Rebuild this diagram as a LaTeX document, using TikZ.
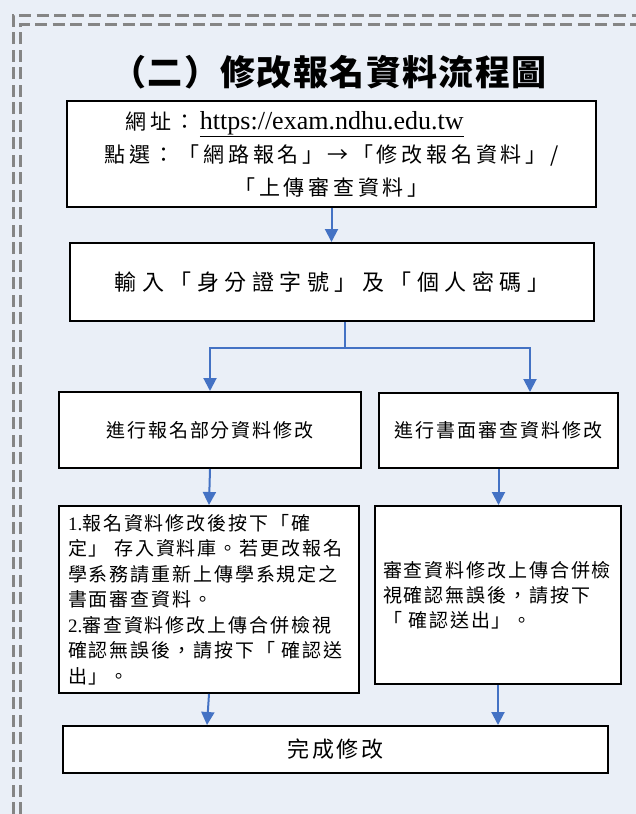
\documentclass[tikz,border=0pt]{standalone}
\usepackage{fontspec}
\setmainfont{Noto Sans CJK TC}
\newfontfamily\latf{Liberation Serif}
\usetikzlibrary{arrows.meta,calc}
\definecolor{bgc}{HTML}{EAEFF7}
\definecolor{arrc}{HTML}{4472C4}
\definecolor{dashc}{HTML}{858585}
\newcommand{\lsp}[1]{\addfontfeature{LetterSpace=#1}}
\tikzset{
 box/.style={draw=black, line width=2pt, fill=white, inner sep=0pt, align=center},
 arr/.style={draw=arrc, line width=2pt, -{Triangle[width=13pt,length=13pt]}},
 conn/.style={draw=arrc, line width=2pt},
 border/.style={draw=dashc, line width=3pt, dash pattern=on 12pt off 5.5pt},
}
\begin{document}
\begin{tikzpicture}[x=1pt,y=-1pt]
\fill[bgc] (0,0) rectangle (636,814);
\useasboundingbox (0,0) rectangle (636,814);
\draw[border] (13,814) -- (13,15) -- (636,15);
\draw[border] (20,814) -- (20,24) -- (636,24);
\node[font=\fontsize{35}{40}\selectfont\bfseries\lsp{4}] (title) at (329,72) {（二）修改報名資料流程圖};
\node[box, minimum width=529pt, minimum height=106pt, font=\fontsize{21}{33}\selectfont\lsp{18}] (b1) at (331.5,154)
 {網址：\hspace{4pt}{\latf\fontsize{26}{33}\selectfont\underline{https://exam.ndhu.edu.tw}}\hspace*{74pt}\\
  點選：「網路報名」→「修改報名資料」/\\
  「上傳審查資料」};
\node[box, minimum width=524pt, minimum height=78pt, font=\fontsize{22}{28}\selectfont\lsp{25}] (b2) at (332,282)
 {輸入「身分證字號」及「個人密碼」};
\node[box, minimum width=302pt, minimum height=76pt, font=\fontsize{19}{25}\selectfont\lsp{10}] (b3) at (210,430)
 {進行報名部分資料修改};
\node[box, minimum width=239pt, minimum height=75pt, font=\fontsize{19}{25}\selectfont\lsp{10}] (b4) at (498.5,430.5)
 {進行書面審查資料修改};
\node[box, text width=282pt, inner xsep=9pt, minimum height=187pt, align=left, font=\fontsize{19}{25.5}\selectfont\lsp{10}] (b5) at (209,599.5)
 {{\latf 1.}報名資料修改後按下「確\\
  定」 存入資料庫。若更改報名\\
  學系務請重新上傳學系規定之\\
  書面審查資料。\\
  {\latf 2.}審查資料修改上傳合併檢視\\
  確認無誤後，請按下「 確認送\\
  出」。};
\node[box, text width=230pt, inner xsep=8pt, minimum height=178pt, align=left, font=\fontsize{19}{25}\selectfont\lsp{10}] (b6) at (498,595)
 {審查資料修改上傳合併檢\\
  視確認無誤後，請按下\\
  「 確認送出」。};
\node[box, minimum width=545pt, minimum height=47pt, font=\fontsize{22}{28}\selectfont\lsp{13}] (b7) at (335.5,749.5)
 {完成修改};
\coordinate (split) at (345,348);
\draw[arr] (b1.south) -- (b1.south |- b2.north);
\draw[conn] (b2.south -| split) -- (split);
\draw[arr] (split) -| (b3.north);
\draw[arr] (split) -| ([xshift=31.5pt]b4.north);
\draw[arr] (b3.south) -- (b5.north);
\draw[arr] (b4.south) -- (b4.south |- b6.north);
\draw[arr] (b5.south) -- ([xshift=-128.5pt]b7.north);
\draw[arr] (b6.south) -- (b6.south |- b7.north);
\end{tikzpicture}
\end{document}
